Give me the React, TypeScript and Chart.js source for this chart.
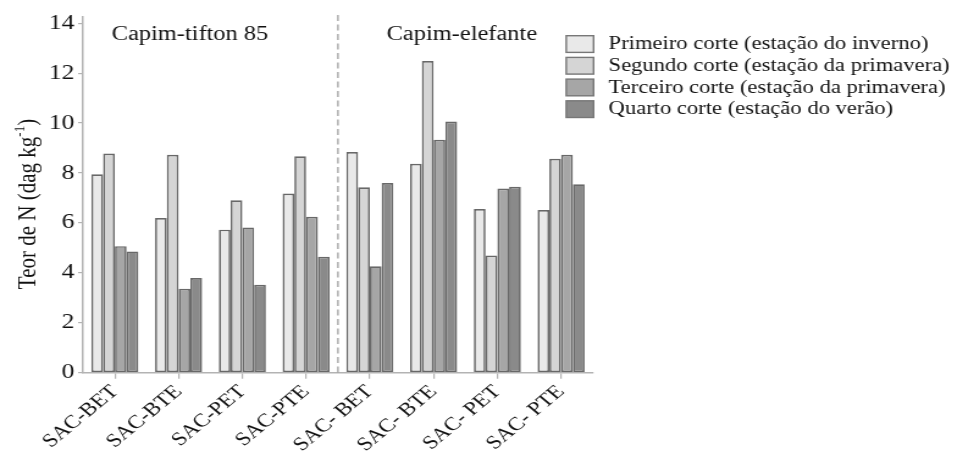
import React, { useEffect, useRef } from "react";
import { Chart, registerables } from "chart.js";

Chart.register(...registerables);

// ---- data ----
const categories = ["SAC-BET", "SAC-BTE", "SAC-PET", "SAC-PTE", "SAC- BET", "SAC- BTE", "SAC- PET", "SAC- PTE"];
const seriesLabels = [
  "Primeiro corte (estação do inverno)",
  "Segundo corte (estação da primavera)",
  "Terceiro corte (estação da primavera)",
  "Quarto corte (estação do verão)",
];
const primeiroCorte = [7.95, 6.2, 5.73, 7.18, 8.84, 8.37, 6.56, 6.52];
const segundoCorte = [8.78, 8.73, 6.91, 8.67, 7.43, 12.49, 4.7, 8.57];
const terceiroCorte = [5.07, 3.36, 5.82, 6.25, 4.26, 9.33, 7.38, 8.73];
const quartoCorte = [4.86, 3.79, 3.52, 4.65, 7.6, 10.06, 7.45, 7.55];
const yTickValues = [0, 2, 4, 6, 8, 10, 12, 14];
const groupTitles = ["Capim-tifton 85", "Capim-elefante"];
const yTitleMain = "Teor de N (dag kg";
const yTitleSup = "-1";
const yTitleEnd = ")";

// ---- style ----
const SERIF = '"Liberation Serif", "Times New Roman", serif';
const fills = ["#e9e9e9", "#d5d5d5", "#a6a6a6", "#8a8a8a"];
const edge = "#686868";
const axisGray = "#b3b3b3";
const STRETCH = 1.22;
const W = Math.round(957 / STRETCH);
const H = 452;

const overlayPlugin = {
  id: "overlay",
  afterDraw(chart: any) {
    const ctx = chart.ctx as CanvasRenderingContext2D;
    const { top, bottom } = chart.chartArea;
    const xs = chart.scales.x;
    ctx.save();
    // dashed divider between the two grasses
    const xd = (xs.getPixelForValue(3) + xs.getPixelForValue(4)) / 2;
    ctx.strokeStyle = "#9a9a9a";
    ctx.lineWidth = 1.2;
    ctx.setLineDash([6, 3.5]);
    ctx.beginPath();
    ctx.moveTo(xd, top - 2);
    ctx.lineTo(xd, bottom);
    ctx.stroke();
    ctx.setLineDash([]);

    // group titles
    ctx.fillStyle = "#111";
    ctx.font = `20px ${SERIF}`;
    ctx.textAlign = "center";
    ctx.textBaseline = "alphabetic";
    ctx.fillText(groupTitles[0], 155.7, 39.5);
    ctx.fillText(groupTitles[1], 378.4, 39.5);

    // legend
    const ds = chart.data.datasets;
    ctx.font = `18.5px ${SERIF}`;
    ctx.textAlign = "left";
    for (let i = 0; i < ds.length; i++) {
      const by = 35.7 + i * 21.7;
      ctx.fillStyle = ds[i].backgroundColor;
      ctx.fillRect(463.9, by, 22.4, 16.7);
      ctx.strokeStyle = "#777";
      ctx.lineWidth = 1.4;
      ctx.strokeRect(463.9, by, 22.4, 16.7);
      ctx.fillStyle = "#111";
      ctx.fillText(ds[i].label, 498.6, by + 13.6);
    }

    // y axis title with superscript
    ctx.translate(22.3, 204);
    ctx.rotate(-Math.PI / 2);
    ctx.font = `21px ${SERIF}`;
    const w1 = ctx.measureText(yTitleMain).width;
    ctx.font = `13px ${SERIF}`;
    const w2 = ctx.measureText(yTitleSup).width;
    ctx.font = `21px ${SERIF}`;
    const w3 = ctx.measureText(yTitleEnd).width;
    let x0 = -(w1 + w2 + w3) / 2;
    ctx.fillStyle = "#111";
    ctx.textAlign = "left";
    ctx.fillText(yTitleMain, x0, 6.5);
    x0 += w1;
    ctx.font = `13px ${SERIF}`;
    ctx.fillText(yTitleSup, x0, -2);
    x0 += w2;
    ctx.font = `21px ${SERIF}`;
    ctx.fillText(yTitleEnd, x0, 6.5);
    ctx.restore();
  },
};

export default function App() {
  const ref = useRef<HTMLCanvasElement | null>(null);

  useEffect(() => {
    document.body.style.margin = "0";
    const canvas = ref.current;
    if (!canvas) return;
    const series = [primeiroCorte, segundoCorte, terceiroCorte, quartoCorte];
    const chart = new Chart(canvas, {
      type: "bar",
      data: {
        labels: categories,
        datasets: series.map((d, i) => ({
          label: seriesLabels[i],
          data: d,
          backgroundColor: fills[i],
          borderColor: edge,
          borderWidth: 1.7,
          borderSkipped: false,
          categoryPercentage: 0.738,
          barPercentage: 1.0,
        })),
      },
      options: {
        responsive: false,
        devicePixelRatio: 1,
        animation: false,
        layout: { padding: { top: 17, right: W - 485.8, left: 0, bottom: 0 } },
        plugins: {
          legend: { display: false },
          tooltip: { enabled: false },
        },
        scales: {
          x: {
            offset: true,
            grid: {
              display: true,
              offset: false,
              drawOnChartArea: false,
              drawTicks: true,
              tickLength: 6,
              color: axisGray,
              lineWidth: 1.2,
            },
            border: { display: true, color: axisGray, width: 1.5 },
            ticks: {
              autoSkip: false,
              minRotation: 45,
              maxRotation: 45,
              padding: 2,
              color: "#111",
              font: { family: SERIF, size: 19 },
            },
            afterFit: (scale: any) => {
              scale.height = 79.3;
            },
          },
          y: {
            min: 0,
            max: 14.25,
            ticks: {
              includeBounds: false,
              stepSize: 2,
              padding: 3,
              color: "#111",
              font: { family: SERIF, size: 21 },
            },
            afterBuildTicks: (scale: any) => {
              scale.ticks = yTickValues.map((v) => ({ value: v }));
            },
            grid: {
              display: true,
              drawOnChartArea: false,
              drawTicks: true,
              tickLength: 4,
              color: axisGray,
              lineWidth: 1.2,
            },
            border: { display: true, color: axisGray, width: 1.5 },
            afterFit: (scale: any) => {
              scale.width = 68;
            },
          },
        },
      },
      plugins: [overlayPlugin],
    } as any);
    return () => chart.destroy();
  }, []);

  return (
    <canvas
      ref={ref}
      width={W}
      height={H}
      style={{ display: "block", width: "957px", height: "452px", background: "#fff" }}
    />
  );
}
